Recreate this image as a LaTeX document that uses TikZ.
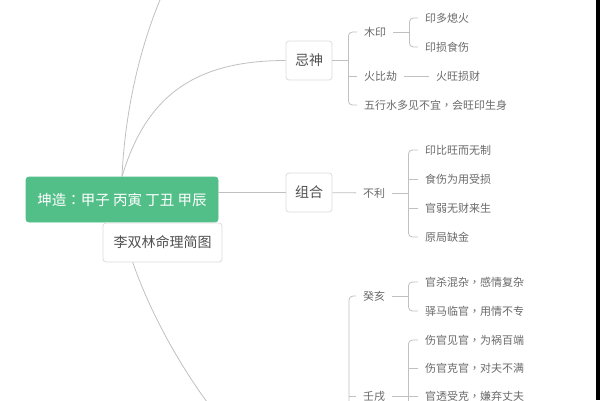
\documentclass[tikz,border=0pt]{standalone}
\usepackage{fontspec}
\setmainfont{Noto Sans CJK SC}
\newfontfamily\tcfont{Noto Sans CJK TC}
\usepackage{tikz}
\usetikzlibrary{positioning}
\definecolor{rootgreen}{RGB}{82,191,137}
\definecolor{inkgray}{RGB}{80,80,80}
\definecolor{leafgray}{RGB}{105,105,105}
\definecolor{linkgray}{RGB}{192,192,192}
\definecolor{boxgray}{RGB}{220,220,220}
\newcommand{\drawbracket}[3]{\draw[link,rounded corners=4pt] (#2.west) -| (#1) |- (#3.west);}
\newcommand{\drawtick}[2]{\draw[link] (#2.west) -- (#2.west -| #1);}
\newcommand{\zhp}[1]{{\tcfont #1}}
\tikzset{
  link/.style={draw=linkgray, line width=0.8pt},
  topic/.style={draw=boxgray, fill=white, rounded corners=3pt, line width=0.8pt, text=inkgray,
    font=\fontsize{14}{16}\selectfont, minimum width=46pt, minimum height=39pt},
  leaf/.style={anchor=west, inner xsep=7pt, inner ysep=2pt, text=leafgray, font=\fontsize{11}{13}\selectfont},
}

\begin{document}
\begin{tikzpicture}[x=1pt,y=-1pt]
\useasboundingbox (0,0) rectangle (600,400);
% central topic and main branches
\node[topic, fill=rootgreen, draw=rootgreen, text=white, minimum width=192pt, minimum height=45pt, font=\fontsize{14.5}{16}\selectfont] (root) at (122,199.5) {坤造\zhp{：}甲子 丙寅 丁丑 甲辰};
\node[topic] (jishen) at (309,60.5) {忌神};
\node[topic] (zuhe) at (309,192.5) {组合};
\coordinate (topHub) at (287,-120);
\coordinate (lowHub) at (287,470);
\draw[link] (root.north) .. controls (128,40) and (190,-120) .. (topHub);
\draw[link] (root.north) .. controls (145,100) and (190,60.5) .. (jishen.west);
\draw[link] (root.south) .. controls (140,320) and (240,470) .. (lowHub);
\draw[link] (root.east |- zuhe) -- (zuhe.west);
\node[topic, minimum width=119pt] (title) at (162.5,242.5) {李双林命理简图};

% 忌神
\node[leaf] (muyin) at (357,32) {木印};
\node[leaf] (huobijie) at (357,76) {火比劫};
\node[leaf] (wuxing) at (357,105) {五行水多见不宜\zhp{，}会旺印生身};
\node[leaf] (yinduo) at (418,18) {印多熄火};
\node[leaf] (yinsun) at (418,47) {印损食伤};
\node[leaf] (huowang) at (429,76) {火旺损财};
\coordinate[right=16pt of jishen] (jsJoin);
\draw[link] (jishen) -- (jsJoin);
\drawbracket{jsJoin}{muyin}{wuxing}
\drawtick{jsJoin}{huobijie}
\coordinate[right=16pt of muyin] (myJoin);
\draw[link] (muyin) -- (myJoin);
\drawbracket{myJoin}{yinduo}{yinsun}
\draw[link] (huobijie) -- (huowang);

% 组合
\node[leaf] (buli) at (356,193) {不利};
\node[leaf] (yinbi) at (418,150) {印比旺而无制};
\node[leaf] (shishang) at (418,179) {食伤为用受损};
\node[leaf] (guanruo) at (418,208) {官弱无财来生};
\node[leaf] (yuanju) at (418,237) {原局缺金};
\draw[link] (zuhe) -- (buli);
\coordinate[right=16pt of buli] (blJoin);
\draw[link] (buli) -- (blJoin);
\drawbracket{blJoin}{yinbi}{yuanju}
\foreach \n in {shishang,guanruo}{\drawtick{blJoin}{\n}}

% lower branch
\node[leaf] (guihai) at (356,296) {癸亥};
\node[leaf] (renxu) at (356,396) {壬戌};
\node[leaf] (guansha) at (418,282) {官杀混杂\zhp{，}感情复杂};
\node[leaf] (yima) at (418,311) {驿马临官\zhp{，}用情不专};
\node[leaf] (shangjian) at (418,340) {伤官见官\zhp{，}为祸百端};
\node[leaf] (shangke) at (418,368) {伤官克官\zhp{，}对夫不满};
\node[leaf] (guantou) at (418,396) {官透受克\zhp{，}嫌弃丈夫};
\coordinate (lowTail) at (349,470);
\draw[link,rounded corners=4pt] (guihai.west) -| (lowTail);
\drawtick{lowTail}{renxu}
\coordinate[right=16pt of guihai] (ghJoin);
\draw[link] (guihai) -- (ghJoin);
\drawbracket{ghJoin}{guansha}{yima}
\coordinate[right=16pt of renxu] (rxJoin);
\coordinate (rxTail) at (rxJoin |- 0,440);
\draw[link] (renxu) -- (rxJoin);
\draw[link,rounded corners=4pt] (shangjian.west) -| (rxTail);
\foreach \n in {shangke,guantou}{\drawtick{rxTail}{\n}}

% right edge
\fill[black] (596,0) rectangle (600,400);
\end{tikzpicture}
\end{document}
